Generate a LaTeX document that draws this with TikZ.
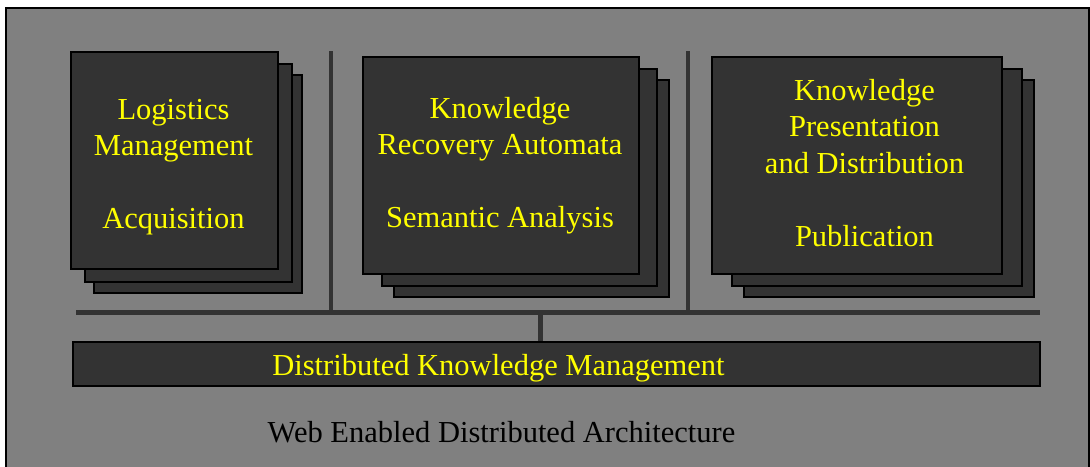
\documentclass[tikz,border=0pt]{standalone}
\usepackage{fontspec}
\setmainfont{Liberation Serif}
\definecolor{bggray}{HTML}{808080}
\definecolor{cardfill}{HTML}{333333}
\definecolor{txtyellow}{HTML}{FFFF00}
\begin{document}
\begin{tikzpicture}[x=1pt,y=-1pt,
  card/.style={draw=black, line width=1.5pt, fill=cardfill, inner sep=0pt},
  lbl/.style={text=txtyellow, font=\fontsize{30.5}{36.5}\selectfont, align=center, inner sep=0pt, anchor=north},
  ylbl/.style={text=txtyellow, font=\fontsize{30.5}{36.5}\selectfont, inner sep=0pt, anchor=base},
  blbl/.style={text=black, font=\fontsize{30.5}{36.5}\selectfont, inner sep=0pt, anchor=base},
  sep/.style={draw=cardfill, line width=4pt},
  bus/.style={draw=cardfill, line width=5pt},
]
\useasboundingbox (0,0) rectangle (1090,466);
\fill[white] (0,0) rectangle (1090,466);
\draw[fill=bggray, line width=1.5pt] (6,8) rectangle (1089,490);

% separators
\coordinate (s1t) at (331,51); \coordinate (s1b) at (331,312.5);
\coordinate (s2t) at (688,51); \coordinate (s2b) at (688,312.5);
\draw[sep] (s1t) -- (s1b);
\draw[sep] (s2t) -- (s2b);

% stack 1
\node[card, minimum width=208pt, minimum height=218pt] (a3) at (198,184) {};
\node[card, minimum width=207pt, minimum height=218pt] (a2) at (188.5,173) {};
\node[card, minimum width=207pt, minimum height=217pt] (a1) at (174.5,160.5) {};
\node[lbl] (ta) at (173.5,94) {\rule{0pt}{25pt}Logistics\\Management\\[36.5pt]Acquisition};

% stack 2
\node[card, minimum width=275pt, minimum height=217pt] (b3) at (531.5,188.5) {};
\node[card, minimum width=275pt, minimum height=217pt] (b2) at (519.5,177.5) {};
\node[card, minimum width=276pt, minimum height=217pt] (b1) at (501,165.5) {};
\node[lbl] (tb) at (500,93) {\rule{0pt}{25pt}Knowledge\\Recovery Automata\\[36.5pt]Semantic Analysis};

% stack 3
\node[card, minimum width=290pt, minimum height=217pt] (c3) at (889,188.5) {};
\node[card, minimum width=290pt, minimum height=217pt] (c2) at (877,177.5) {};
\node[card, minimum width=290pt, minimum height=217pt] (c1) at (857,165.5) {};
\node[lbl] (tc) at (864.5,75) {\rule{0pt}{25pt}Knowledge\\Presentation\\and Distribution\\[36.5pt]Publication};

% bus
\coordinate (busL) at (76,312.5);
\coordinate (busR) at (1040,312.5);
\coordinate (j) at (540.5,312.5);
\draw[bus] (busL) -- (busR);

% DKM
\node[card, minimum width=967pt, minimum height=44pt] (dkm) at (556.5,364) {};
\draw[bus] (j) -- (j |- dkm.north);
\node[ylbl] (tdkm) at (498.5,375) {Distributed Knowledge Management};

\node[blbl] (web) at (501.5,442) {Web Enabled Distributed Architecture};
\end{tikzpicture}
\end{document}
